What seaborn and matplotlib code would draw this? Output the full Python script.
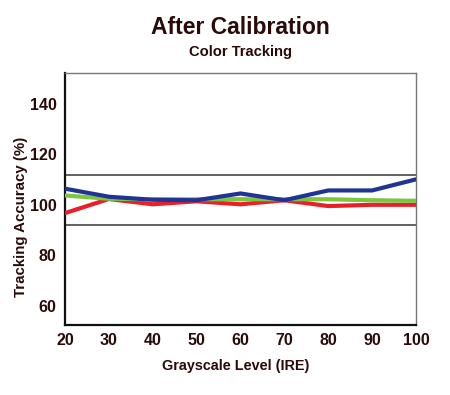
import matplotlib
matplotlib.use("Agg")
import matplotlib.pyplot as plt
import matplotlib.transforms as mtransforms
import pandas as pd
import seaborn as sns

# Grayscale levels (IRE) and per-channel tracking accuracy (%)
ire = [20, 30, 40, 50, 60, 70, 80, 90, 100]
red = [94.9, 100.5, 98.4, 99.6, 98.4, 100.0, 97.7, 98.2, 98.2]
green = [101.9, 100.6, 100.4, 100.4, 100.4, 100.4, 100.4, 100.0, 99.8]
blue = [104.6, 101.4, 100.2, 100.0, 102.7, 100.0, 103.9, 103.9, 108.3]

colors = {"Red": "#e8202a", "Green": "#7cc63f", "Blue": "#1f3596"}
text_color = "#2b0a0a"


def main():
    sns.set_style("white")
    plt.rcParams["font.family"] = ["Liberation Sans", "DejaVu Sans"]

    df = pd.DataFrame({
        "IRE": ire * 3,
        "Accuracy": red + green + blue,
        "Channel": ["Red"] * len(ire) + ["Green"] * len(ire) + ["Blue"] * len(ire),
    })

    fig = plt.figure(figsize=(4.5, 3.95), dpi=100)
    ax = fig.add_axes([0.1444, 0.1772, 0.78, 0.638])

    # reference band at +/-10%
    ax.axhline(110, color="#555555", lw=1.3, zorder=1)
    ax.axhline(90, color="#555555", lw=1.3, zorder=1)

    sns.lineplot(data=df, x="IRE", y="Accuracy", hue="Channel",
                 hue_order=["Red", "Green", "Blue"], palette=colors,
                 lw=3.0, ax=ax, legend=False, zorder=3)

    ax.set_xlim(20, 100)
    ax.set_ylim(50.5, 150.5)
    ax.set_xticks(range(20, 101, 10))
    ax.set_xticks(range(25, 100, 10), minor=True)
    ax.set_yticks(range(60, 141, 20))
    ax.set_yticks(range(70, 151, 20), minor=True)
    ax.tick_params(axis="both", which="both", direction="in", length=4,
                   width=0.8, color="#444444")
    ax.tick_params(axis="both", which="major", labelsize=11.5,
                   labelcolor=text_color, pad=6)
    shift = mtransforms.ScaledTranslation(0, -0.045, fig.dpi_scale_trans)
    for lab in ax.get_yticklabels():
        lab.set_fontweight("bold")
        lab.set_transform(lab.get_transform() + shift)
    for lab in ax.get_xticklabels():
        lab.set_fontweight("bold")

    for side in ["left", "bottom"]:
        ax.spines[side].set_color("#111111")
        ax.spines[side].set_linewidth(1.6)
    for side in ["top", "right"]:
        ax.spines[side].set_color("#777777")
        ax.spines[side].set_linewidth(1.0)

    ax.set_xlabel("Grayscale Level (IRE)", fontsize=10.4, fontweight="bold",
                  color=text_color)
    ax.xaxis.set_label_coords(0.487, -0.135)
    ax.set_ylabel("Tracking Accuracy (%)", fontsize=10.8, fontweight="bold",
                  color=text_color)
    ax.yaxis.set_label_coords(-0.105, 0.43)

    fig.text(0.535, 0.93, "After Calibration", ha="center", va="center",
             fontsize=16.5, fontweight="bold", color=text_color)
    fig.text(0.535, 0.868, "Color Tracking", ha="center", va="center",
             fontsize=10.6, fontweight="bold", color=text_color)

    fig.savefig("out.png", dpi=100)


if __name__ == "__main__":
    main()
